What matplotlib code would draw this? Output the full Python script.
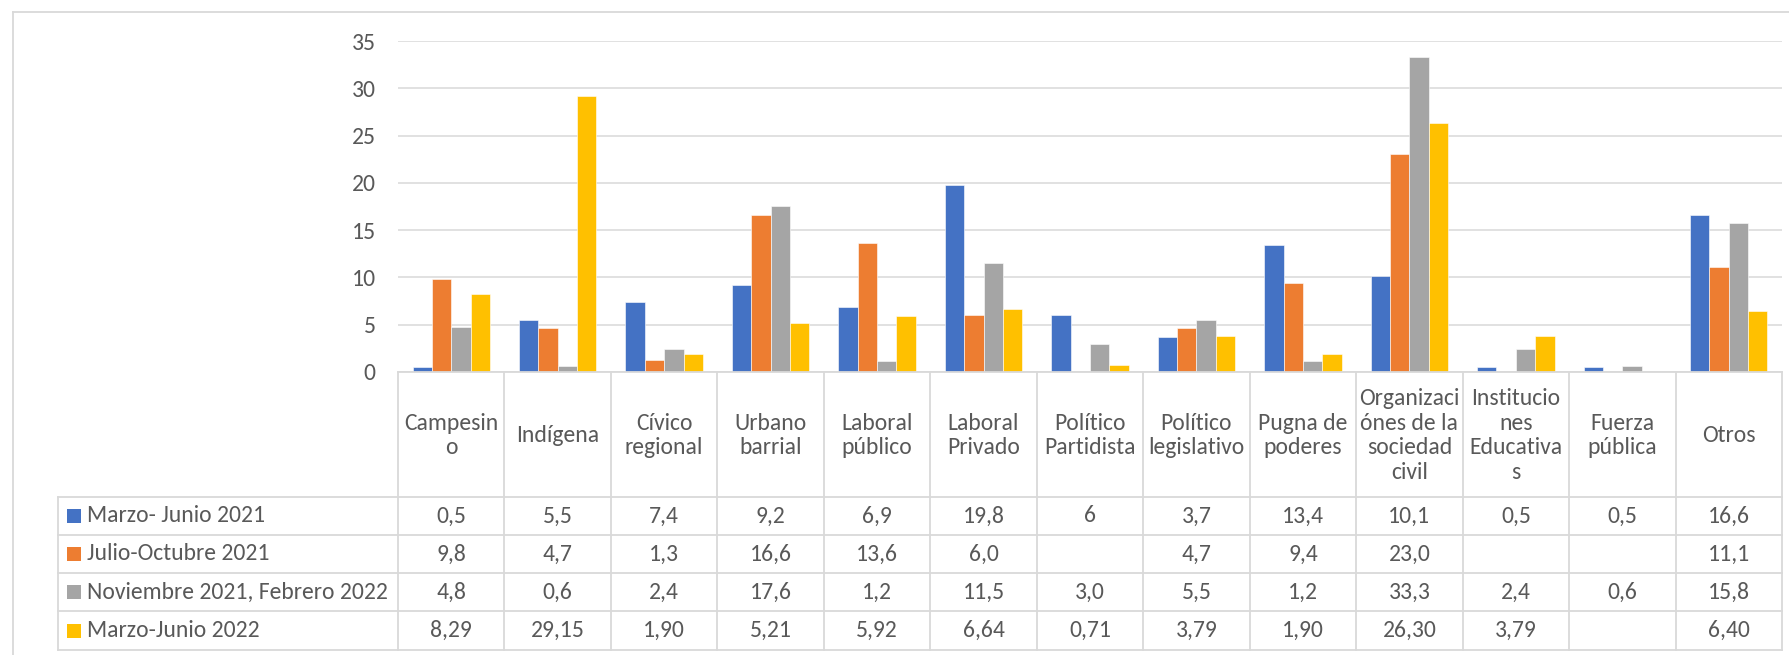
import matplotlib
matplotlib.use("Agg")
import matplotlib.pyplot as plt
from matplotlib.patches import Rectangle
from matplotlib.transforms import blended_transform_factory

# ---------------- data ----------------
categories = ["Campesin\no", "Indígena", "Cívico\nregional", "Urbano\nbarrial",
              "Laboral\npúblico", "Laboral\nPrivado", "Político\nPartidista",
              "Político\nlegislativo", "Pugna de\npoderes",
              "Organizaci\nónes de la\nsociedad\ncivil",
              "Institucio\nnes\nEducativa\ns", "Fuerza\npública", "Otros"]

series_names = ["Marzo- Junio 2021", "Julio-Octubre 2021",
                "Noviembre 2021, Febrero 2022", "Marzo-Junio 2022"]

marzo_junio_2021 = ["0,5", "5,5", "7,4", "9,2", "6,9", "19,8", "6", "3,7", "13,4", "10,1", "0,5", "0,5", "16,6"]
julio_octubre_2021 = ["9,8", "4,7", "1,3", "16,6", "13,6", "6,0", "", "4,7", "9,4", "23,0", "", "", "11,1"]
nov2021_feb2022 = ["4,8", "0,6", "2,4", "17,6", "1,2", "11,5", "3,0", "5,5", "1,2", "33,3", "2,4", "0,6", "15,8"]
marzo_junio_2022 = ["8,29", "29,15", "1,90", "5,21", "5,92", "6,64", "0,71", "3,79", "1,90", "26,30", "3,79", "", "6,40"]

series_values = [marzo_junio_2021, julio_octubre_2021, nov2021_feb2022, marzo_junio_2022]
yticks = [0, 5, 10, 15, 20, 25, 30, 35]

colors = ["#4472C4", "#ED7D31", "#A5A5A5", "#FFC000"]
text_color = "#595959"
line_color = "#D9D9D9"

plt.rcParams["font.family"] = ["Carlito", "Lato", "DejaVu Sans"]
FS = 17.0

W, H = 1790, 655
fig = plt.figure(figsize=(W / 100, H / 100), dpi=100)

# plot area (pixel geometry of the reference)
x0, x1 = 398, 1782
y_zero, y_top = 372, 41
ax = fig.add_axes([x0 / W, 1 - y_zero / H, (x1 - x0) / W, (y_zero - y_top) / H])

n = len(categories)
ns = len(series_values)
bw = 1 / (ns + 1.5)
for i, (vals, c) in enumerate(zip(series_values, colors)):
    xs, hs = [], []
    for j, v in enumerate(vals):
        if v != "":
            xs.append(j + (i - (ns - 1) / 2) * bw)
            hs.append(float(v.replace(",", ".")))
    ax.bar(xs, hs, width=bw, color=c, edgecolor="white", linewidth=0.4, zorder=3)

ax.set_xlim(-0.5, n - 0.5)
ax.set_ylim(0, 35)
ax.set_yticks(yticks)
ax.set_yticklabels([str(t) for t in yticks], color=text_color, fontsize=FS)
ax.tick_params(axis="y", length=0, pad=16)
ax.set_xticks([])
ax.yaxis.grid(True, color=line_color, linewidth=1.1)
ax.set_axisbelow(True)
for s in ax.spines.values():
    s.set_visible(False)

# overlay in pixel coordinates for the data table and the chart border
ov = fig.add_axes([0, 0, 1, 1])
ov.set_xlim(0, W)
ov.set_ylim(H, 0)
ov.axis("off")
bt = blended_transform_factory(ax.transData, ov.transData)

lw = 1.3
# chart border (top and left)
ov.plot([13, W], [12, 12], color=line_color, lw=1.3)
ov.plot([13, 13], [12, H], color=line_color, lw=1.3)

header_bottom = 497
row_edges = [497, 535, 573, 611, 650]
table_left = 58

# horizontal table lines
ov.plot([x0, x1], [y_zero, y_zero], color=line_color, lw=lw, zorder=4)
for ye in row_edges:
    ov.plot([table_left, x1], [ye, ye], color=line_color, lw=lw)
# vertical lines
ov.plot([table_left, table_left], [header_bottom, row_edges[-1]], color=line_color, lw=lw)
for k in range(n + 1):
    ov.plot([k - 0.5, k - 0.5], [y_zero, row_edges[-1]], color=line_color, lw=lw, transform=bt)

# header (category) labels
for j, cat in enumerate(categories):
    ov.text(j, (y_zero + header_bottom) / 2 + 1, cat, transform=bt, ha="center", va="center",
            color=text_color, fontsize=FS, linespacing=1.2, multialignment="center")

# rows
for i, (name, vals, c) in enumerate(zip(series_names, series_values, colors)):
    yc = (row_edges[i] + row_edges[i + 1]) / 2
    ov.add_patch(Rectangle((67, yc - 7), 14, 14, color=c, lw=0))
    ov.text(87, yc, name, ha="left", va="center", color=text_color, fontsize=FS)
    for j, v in enumerate(vals):
        if v:
            ov.text(j, yc, v, transform=bt, ha="center", va="center",
                    color=text_color, fontsize=FS)

fig.savefig("out.png", dpi=100, facecolor="white")
